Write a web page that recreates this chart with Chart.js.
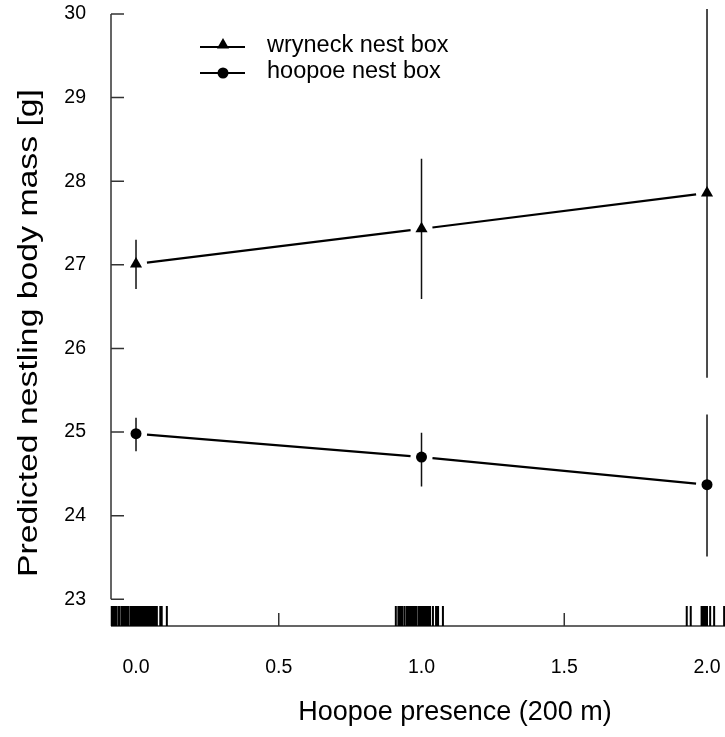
<!DOCTYPE html>
<html><head><meta charset="utf-8">
<script src="https://cdn.jsdelivr.net/npm/chart.js@4"></script>
<style>html,body{margin:0;padding:0;background:#fff;} canvas{display:block}</style>
</head><body>
<canvas id="c" width="725" height="737" style="width:725px;height:737px"></canvas>
<script>
// ---- data ----
const presence = [0, 1, 2];
const wryneckMean = [27.01, 27.43, 27.86];
const wryneckLow  = [26.71, 26.59, 25.65];
const wryneckHigh = [27.30, 28.27, 30.06];
const hoopoeMean  = [24.98, 24.70, 24.37];
const hoopoeLow   = [24.77, 24.35, 23.51];
const hoopoeHigh  = [25.17, 24.99, 25.21];
const rugValues = [
  -0.085, -0.080, -0.075, -0.070, -0.062, -0.058, -0.050, -0.045, -0.040, -0.033,
  -0.028, -0.020, -0.015, -0.010, -0.004, 0.000, 0.005, 0.010, 0.016, 0.020,
  0.027, 0.032, 0.036, 0.042, 0.047, 0.052, 0.058, 0.062, 0.066, 0.073,
  0.085, 0.090, 0.108,
  0.910, 0.919, 0.926, 0.932, 0.940, 0.948, 0.955, 0.961, 0.968, 0.975,
  0.982, 0.990, 0.996, 1.003, 1.010, 1.017, 1.024, 1.030, 1.040, 1.051, 1.058, 1.075,
  1.929, 1.943, 1.981, 1.985, 1.990, 1.995, 2.000, 2.011, 2.025, 2.060
];
const xTickValues = [0, 0.5, 1, 1.5, 2];
const yTickValues = [23, 24, 25, 26, 27, 28, 29, 30];
const seriesLabels = ['wryneck nest box', 'hoopoe nest box'];
const xTitle = 'Hoopoe presence (200 m)';
const yTitle = 'Predicted nestling body mass [g]';

const FONT = "'Liberation Sans', Arial, Helvetica, sans-serif";
const INK = '#000';
const AXIS = '#333';

function triPath(ctx, x, y, r) {
  const w = r * Math.sin(2 * Math.PI / 3);
  ctx.beginPath();
  ctx.moveTo(x, y - r);
  ctx.lineTo(x + w, y + r / 2);
  ctx.lineTo(x - w, y + r / 2);
  ctx.closePath();
}

const sigmaPlugin = {
  id: 'sigma',
  beforeDatasetsDraw(chart) {
    const ctx = chart.ctx, xs = chart.scales.x, ys = chart.scales.y;
    ctx.save();
    ctx.strokeStyle = AXIS; ctx.lineWidth = 1.5;
    const ax = xs.left;
    const yTop = ys.getPixelForValue(yTickValues[yTickValues.length - 1]);
    const yBot = ys.getPixelForValue(yTickValues[0]);
    ctx.beginPath();
    ctx.moveTo(ax, yTop); ctx.lineTo(ax, yBot);
    yTickValues.forEach(v => { const p = ys.getPixelForValue(v); ctx.moveTo(ax, p); ctx.lineTo(ax + 13, p); });
    const by = ys.bottom;
    ctx.moveTo(xs.left, by); ctx.lineTo(xs.right, by);
    xTickValues.forEach(v => { const p = xs.getPixelForValue(v); ctx.moveTo(p, by); ctx.lineTo(p, by - 13); });
    ctx.stroke();
    // rug
    ctx.strokeStyle = INK; ctx.lineWidth = 2;
    ctx.beginPath();
    rugValues.forEach(v => { const p = xs.getPixelForValue(v); ctx.moveTo(p, by); ctx.lineTo(p, by - 20); });
    ctx.stroke();
    // error bars
    ctx.strokeStyle = '#111'; ctx.lineWidth = 1.5;
    ctx.beginPath();
    [[wryneckLow, wryneckHigh], [hoopoeLow, hoopoeHigh]].forEach(([lo, hi]) => {
      presence.forEach((xv, i) => {
        const px = xs.getPixelForValue(xv);
        ctx.moveTo(px, ys.getPixelForValue(lo[i]));
        ctx.lineTo(px, ys.getPixelForValue(hi[i]));
      });
    });
    ctx.stroke();
    // connecting lines with gaps at the symbols
    ctx.strokeStyle = INK; ctx.lineWidth = 2.2;
    const gap = 11;
    ctx.beginPath();
    [wryneckMean, hoopoeMean].forEach(m => {
      for (let i = 0; i < presence.length - 1; i++) {
        const x1 = xs.getPixelForValue(presence[i]), y1 = ys.getPixelForValue(m[i]);
        const x2 = xs.getPixelForValue(presence[i + 1]), y2 = ys.getPixelForValue(m[i + 1]);
        const L = Math.hypot(x2 - x1, y2 - y1), ux = (x2 - x1) / L, uy = (y2 - y1) / L;
        ctx.moveTo(x1 + ux * gap, y1 + uy * gap);
        ctx.lineTo(x2 - ux * gap, y2 - uy * gap);
      }
    });
    ctx.stroke();
    ctx.restore();
  },
  afterDraw(chart) {
    const ctx = chart.ctx;
    ctx.save();
    const rows = [47, 73];
    ctx.strokeStyle = INK; ctx.fillStyle = INK; ctx.lineWidth = 2.2;
    rows.forEach((y, i) => {
      ctx.beginPath(); ctx.moveTo(200, y); ctx.lineTo(245, y); ctx.stroke();
      if (i === 0) { triPath(ctx, 223, y - 2, 7); ctx.fill(); }
      else { ctx.beginPath(); ctx.arc(223, y, 5.5, 0, Math.PI * 2); ctx.fill(); }
    });
    ctx.font = '23.5px ' + FONT;
    ctx.textAlign = 'left'; ctx.textBaseline = 'middle';
    seriesLabels.forEach((t, i) => ctx.fillText(t, 267, rows[i] - 1));
    ctx.font = '27px ' + FONT;
    ctx.textAlign = 'center'; ctx.textBaseline = 'middle';
    ctx.fillText(xTitle, 455, 713);
    const w = ctx.measureText(yTitle).width;
    ctx.translate(30, 333); ctx.rotate(-Math.PI / 2);
    ctx.scale(488 / w, 1);
    ctx.fillText(yTitle, 0, 0);
    ctx.restore();
  }
};

function noPad(s) { s.paddingLeft = 0; s.paddingRight = 0; s.paddingTop = 0; s.paddingBottom = 0; }

new Chart(document.getElementById('c'), {
  type: 'line',
  data: {
    datasets: [
      { label: seriesLabels[0], data: presence.map((x, i) => ({ x, y: wryneckMean[i] })),
        showLine: false, pointStyle: 'triangle', pointRadius: 7, pointHoverRadius: 7,
        pointBackgroundColor: INK, pointBorderColor: INK, pointBorderWidth: 0, clip: false },
      { label: seriesLabels[1], data: presence.map((x, i) => ({ x, y: hoopoeMean[i] })),
        showLine: false, pointStyle: 'circle', pointRadius: 5.5, pointHoverRadius: 5.5,
        pointBackgroundColor: INK, pointBorderColor: INK, pointBorderWidth: 0, clip: false }
    ]
  },
  options: {
    responsive: false, animation: false, devicePixelRatio: 1,
    layout: { autoPadding: false, padding: { top: 14, right: 0, bottom: 0, left: 0 } },
    plugins: { legend: { display: false }, tooltip: { enabled: false } },
    events: [],
    scales: {
      x: {
        type: 'linear', min: -0.0876, max: 2.063,
        grid: { display: false, drawTicks: false }, border: { display: false },
        afterFit: s => { s.height = 111; noPad(s); },
        afterBuildTicks: s => { s.ticks = xTickValues.map(v => ({ value: v })); },
        ticks: { padding: 30, color: INK, font: { family: FONT, size: 19.5 }, callback: v => Number(v).toFixed(1), maxRotation: 0, autoSkip: false }
      },
      y: {
        type: 'linear', min: 22.68, max: 30,
        grid: { display: false, drawTicks: false }, border: { display: false },
        afterFit: s => { s.width = 111; noPad(s); },
        afterBuildTicks: s => { s.ticks = yTickValues.map(v => ({ value: v })); },
        ticks: { padding: 25, color: INK, font: { family: FONT, size: 19.5 }, callback: v => String(v), autoSkip: false }
      }
    }
  },
  plugins: [sigmaPlugin]
});
</script>
</body></html>
